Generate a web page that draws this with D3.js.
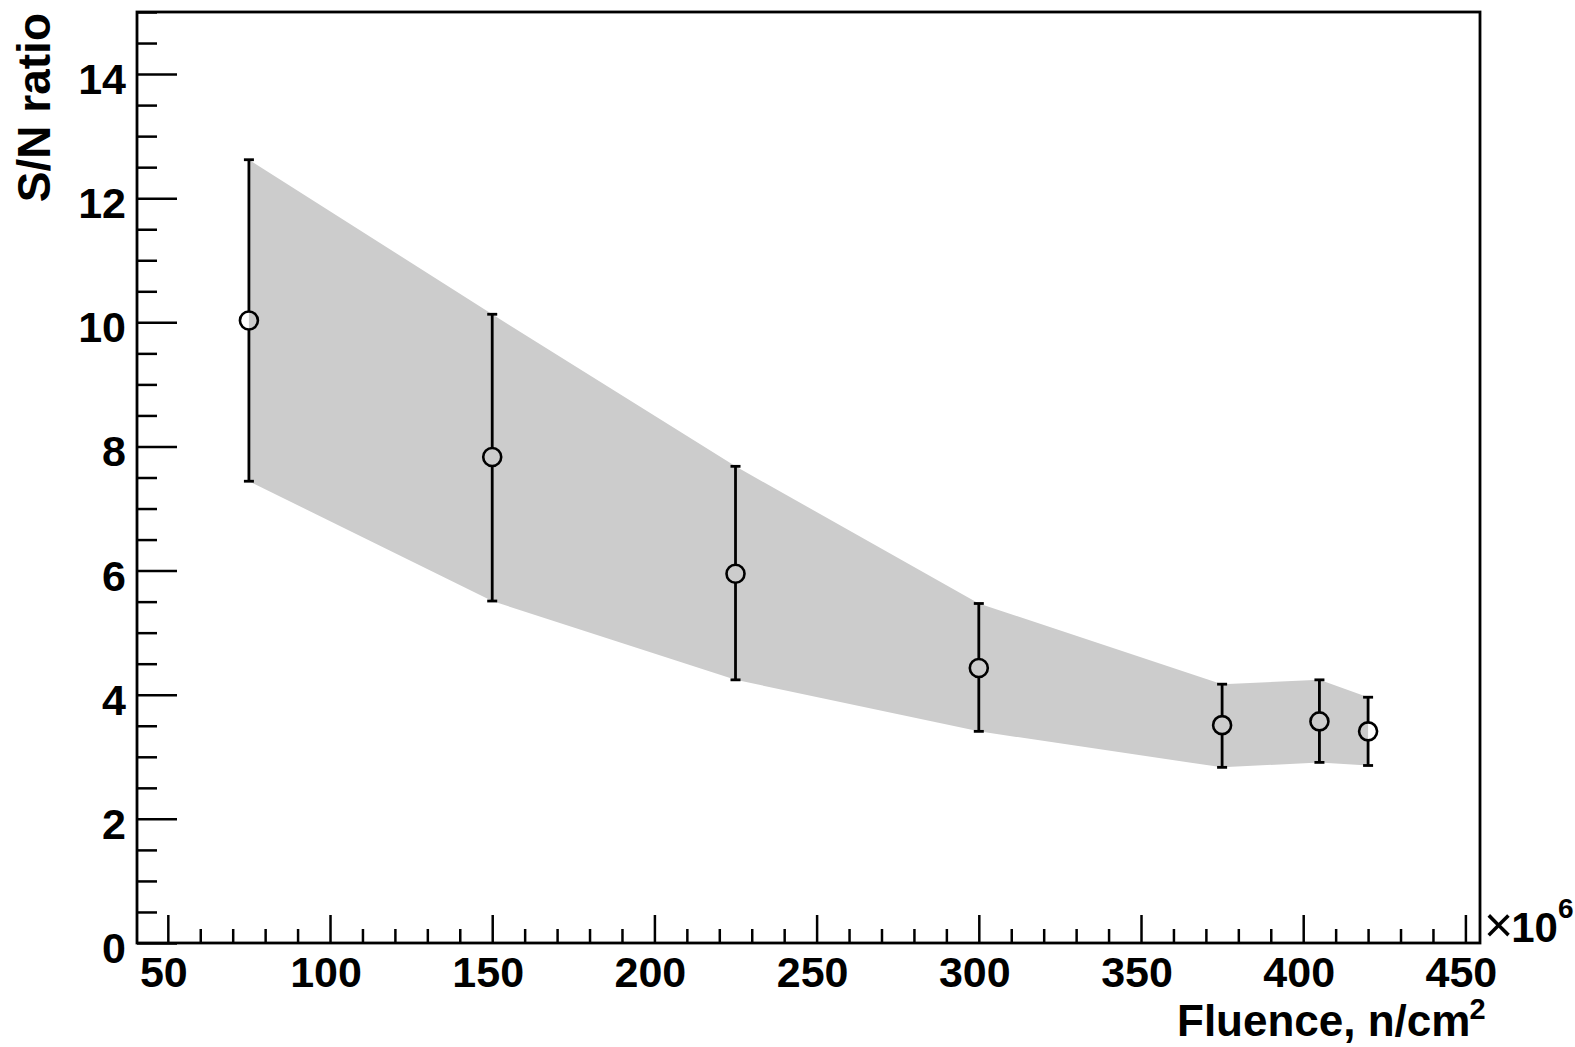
<!DOCTYPE html>
<html>
<head>
<meta charset="utf-8">
<script src="https://cdn.jsdelivr.net/npm/d3@7"></script>
<style>
  html, body { margin: 0; padding: 0; background: #fff; }
  svg { display: block; }
  text { font-family: "Liberation Sans", Arial, Helvetica, sans-serif; font-weight: bold; fill: #000; }
</style>
</head>
<body>
<svg id="chart" width="1575" height="1047"></svg>
<script>
// Fluence (×10^6 n/cm²) and measured S/N ratio with error limits
const fluence = [75, 150, 225, 300, 375, 405, 420];
const snRatio = [10.03, 7.83, 5.95, 4.43, 3.51, 3.57, 3.41];
const snHigh  = [12.62, 10.13, 7.68, 5.47, 4.17, 4.24, 3.96];
const snLow   = [7.44, 5.51, 4.24, 3.41, 2.83, 2.91, 2.86];

const xTickValues = [50, 100, 150, 200, 250, 300, 350, 400, 450];
const yTickValues = [0, 2, 4, 6, 8, 10, 12, 14];

const svg = d3.select("#chart");
const frame = { left: 137, right: 1480, top: 12, bottom: 943 };

const x = d3.scaleLinear().domain([40.5, 454.5]).range([frame.left, frame.right]);
const y = d3.scaleLinear().domain([0, 15]).range([frame.bottom, frame.top]);

const points = fluence.map((f, i) => ({ f, v: snRatio[i], hi: snHigh[i], lo: snLow[i] }));

// Shaded uncertainty band
const band = d3.area()
  .x(d => x(d.f))
  .y0(d => y(d.lo))
  .y1(d => y(d.hi));
svg.append("path")
  .datum(points)
  .attr("d", band)
  .attr("fill", "#cccccc")
  .attr("stroke", "none");

// Frame
svg.append("rect")
  .attr("x", frame.left).attr("y", frame.top)
  .attr("width", frame.right - frame.left)
  .attr("height", frame.bottom - frame.top)
  .attr("fill", "none").attr("stroke", "#000").attr("stroke-width", 2.8);

// X axis ticks (pointing inward)
const xMinor = d3.range(50, 451, 10).filter(v => v % 50 !== 0);
const xAxisMajor = d3.axisBottom(x).tickValues(xTickValues).tickSizeInner(-28).tickSizeOuter(0).tickFormat("");
const xAxisMinor = d3.axisBottom(x).tickValues(xMinor).tickSizeInner(-14).tickSizeOuter(0).tickFormat("");
[xAxisMajor, xAxisMinor].forEach(ax => {
  const g = svg.append("g").attr("transform", `translate(0,${frame.bottom})`).call(ax);
  g.select(".domain").remove();
  g.selectAll("line").attr("stroke", "#000").attr("stroke-width", 2.5);
});
svg.append("g").selectAll("text").data(xTickValues).join("text")
  .attr("x", d => x(d) - 4)
  .attr("y", 987)
  .attr("text-anchor", "middle")
  .attr("font-size", 43)
  .text(d => d);

// Y axis ticks (pointing inward)
const yMinor = d3.range(0, 15.01, 0.5).filter(v => v % 2 !== 0);
const yAxisMajor = d3.axisLeft(y).tickValues(yTickValues).tickSizeInner(-40).tickSizeOuter(0).tickFormat("");
const yAxisMinor = d3.axisLeft(y).tickValues(yMinor).tickSizeInner(-20).tickSizeOuter(0).tickFormat("");
[yAxisMajor, yAxisMinor].forEach(ax => {
  const g = svg.append("g").attr("transform", `translate(${frame.left},0)`).call(ax);
  g.select(".domain").remove();
  g.selectAll("line").attr("stroke", "#000").attr("stroke-width", 2.5);
});
svg.append("g").selectAll("text").data(yTickValues).join("text")
  .attr("x", 126)
  .attr("y", d => y(d) + 20)
  .attr("text-anchor", "end")
  .attr("font-size", 43)
  .text(d => d);

// Error bars
const capHalf = 5;
const eg = svg.append("g").attr("stroke", "#000").attr("stroke-width", 2.8).attr("fill", "none");
points.forEach(d => {
  eg.append("line").attr("x1", x(d.f)).attr("x2", x(d.f)).attr("y1", y(d.hi)).attr("y2", y(d.v) - 9);
  eg.append("line").attr("x1", x(d.f)).attr("x2", x(d.f)).attr("y1", y(d.v) + 9).attr("y2", y(d.lo));
  eg.append("line").attr("x1", x(d.f) - capHalf).attr("x2", x(d.f) + capHalf).attr("y1", y(d.hi)).attr("y2", y(d.hi));
  eg.append("line").attr("x1", x(d.f) - capHalf).attr("x2", x(d.f) + capHalf).attr("y1", y(d.lo)).attr("y2", y(d.lo));
});

// Open circle markers
svg.append("g").selectAll("circle").data(points).join("circle")
  .attr("cx", d => x(d.f))
  .attr("cy", d => y(d.v))
  .attr("r", 9)
  .attr("fill", "none")
  .attr("stroke", "#000")
  .attr("stroke-width", 2.6);

// Axis titles
const xt = svg.append("text")
  .attr("x", 1177).attr("y", 1036)
  .attr("font-size", 44);
xt.append("tspan").text("Fluence, n/cm");
xt.append("tspan").attr("dx", -1).attr("dy", -17).attr("font-size", 29).text("2");

svg.append("text")
  .attr("transform", `translate(50,13) rotate(-90)`)
  .attr("text-anchor", "end")
  .attr("font-size", 46)
  .text("S/N ratio");

// Exponent marker for x axis
const ex = svg.append("text").attr("x", 1484).attr("y", 942);
ex.append("tspan").attr("font-size", 50).attr("font-weight", "normal").text("×");
ex.append("tspan").attr("dx", -2).attr("font-size", 42).text("10");
ex.append("tspan").attr("dy", -24).attr("font-size", 28).text("6");
</script>
</body>
</html>
